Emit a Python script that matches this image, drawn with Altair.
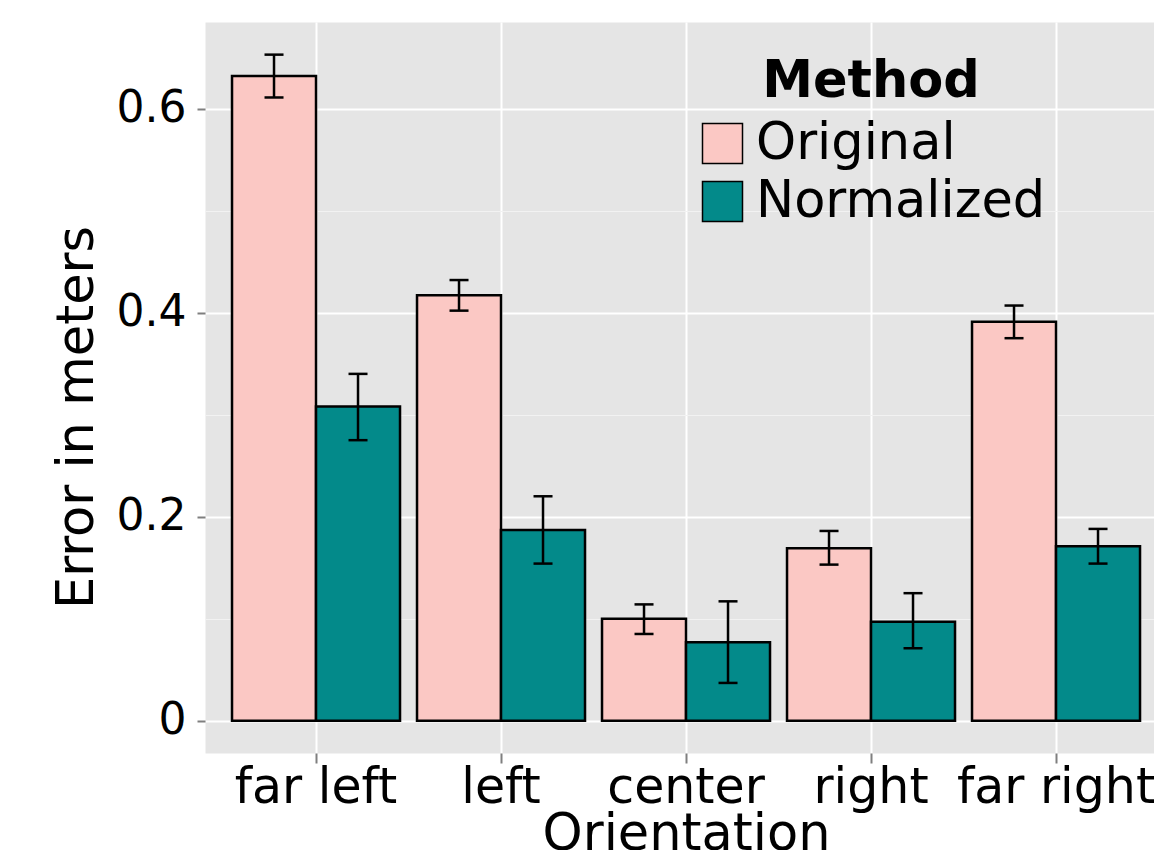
import altair as alt
import pandas as pd

categories = ["far left", "left", "center", "right", "far right"]
methods = ["Original", "Normalized"]
original_mean = [0.632, 0.417, 0.100, 0.169, 0.391]
original_low = [0.611, 0.402, 0.085, 0.153, 0.375]
original_high = [0.653, 0.432, 0.114, 0.186, 0.407]
normalized_mean = [0.308, 0.187, 0.077, 0.097, 0.171]
normalized_low = [0.275, 0.154, 0.037, 0.071, 0.154]
normalized_high = [0.340, 0.220, 0.117, 0.125, 0.188]
y_ticks = [0, 0.1, 0.2, 0.3, 0.4, 0.5, 0.6]
colors = ["#FBC8C4", "#038A8A"]

rows = []
for i, c in enumerate(categories):
    rows.append(dict(Orientation=c, Method="Original", mean=original_mean[i],
                     low=original_low[i], high=original_high[i]))
    rows.append(dict(Orientation=c, Method="Normalized", mean=normalized_mean[i],
                     low=normalized_low[i], high=normalized_high[i]))
df = pd.DataFrame(rows)

FONT = "DejaVu Sans"
minor_test = "round(datum.value*10) % 2 == 1"

x = alt.X(
    "Orientation:N", sort=categories,
    scale=alt.Scale(paddingInner=0.0919, paddingOuter=0.1108, align=0.659),
    axis=alt.Axis(
        title="Orientation", labelFontSize=49, labelAngle=0,
        labelBaseline="alphabetic", labelPadding=39, labelLimit=1000,
        labelColor="black", labelFont=FONT,
        tickSize=10, tickColor="#7F7F7F", tickWidth=2,
        grid=True, gridColor="white", gridWidth=2, domain=False, bandPosition=0.5,
        titleFontSize=51, titleFontWeight="normal", titleFont=FONT, titleColor="black",
        titleX=481, titleY=96, titleBaseline="alphabetic", titleAlign="center",
        titleLimit=2000,
    ),
)
xo = alt.XOffset("Method:N", sort=methods,
                 scale=alt.Scale(domain=methods, paddingInner=0, paddingOuter=0))

y = alt.Y(
    "mean:Q",
    scale=alt.Scale(domain=[-0.0317, 0.685], nice=False, zero=False),
    axis=alt.Axis(
        values=y_ticks, title="Error in meters",
        labelExpr="datum.value == 0 ? '0' : (" + minor_test + " ? '' : format(datum.value, '.1f'))",
        labelFontSize=44, labelPadding=11, labelColor="black", labelFont=FONT,
        tickSize=8, tickColor="#7F7F7F", tickWidth=2,
        tickOpacity={"condition": {"test": minor_test, "value": 0}, "value": 1},
        grid=True,
        gridColor={"condition": {"test": minor_test, "value": "#F2F2F2"}, "value": "white"},
        gridWidth={"condition": {"test": minor_test, "value": 1}, "value": 2},
        domain=False,
        titleFontSize=51, titleFontWeight="normal", titleFont=FONT, titleColor="black",
        titleAngle=270, titleX=-113, titleY=395, titleBaseline="alphabetic", titleAlign="center",
        titleLimit=2000,
    ),
)

color = alt.Color(
    "Method:N", sort=methods,
    scale=alt.Scale(domain=methods, range=colors),
    legend=alt.Legend(
        title="Method", orient="none", legendX=492, legendY=35, direction="vertical",
        titleFontSize=51, titleFontWeight="bold", titleFont=FONT, titleColor="black",
        titleAnchor="middle", titlePadding=10, titleLimit=2000,
        labelFontSize=51, labelFont=FONT, labelColor="black", labelOffset=8,
        labelLimit=2000,
        symbolType="square", symbolSize=1600, symbolStrokeColor="black",
        symbolStrokeWidth=1.5, symbolOpacity=1, rowPadding=6, padding=0,
    ),
)

base = alt.Chart(df)
bars = base.mark_bar(stroke="black", strokeWidth=2.5, opacity=1).encode(
    x=x, xOffset=xo, y=y, y2=alt.datum(0), color=color
)
whisk = base.mark_rule(color="black", strokeWidth=2.5).encode(
    x=x, xOffset=xo, y="low:Q", y2="high:Q"
)
cap_lo = base.mark_tick(color="black", size=19, thickness=2.5, opacity=1).encode(
    x=x, xOffset=xo, y="low:Q"
)
cap_hi = base.mark_tick(color="black", size=19, thickness=2.5, opacity=1).encode(
    x=x, xOffset=xo, y="high:Q"
)

chart = (
    alt.layer(bars, whisk, cap_lo, cap_hi)
    .properties(
        width=949, height=731,
        padding={"left": 197, "top": 14, "right": 0, "bottom": 97},
        autosize=alt.AutoSizeParams(type="none"),
        background="white",
    )
    .configure_view(fill="#E5E5E5", strokeOpacity=0)
)

chart.save("out.html", embed_options={"renderer": "svg", "actions": False})
